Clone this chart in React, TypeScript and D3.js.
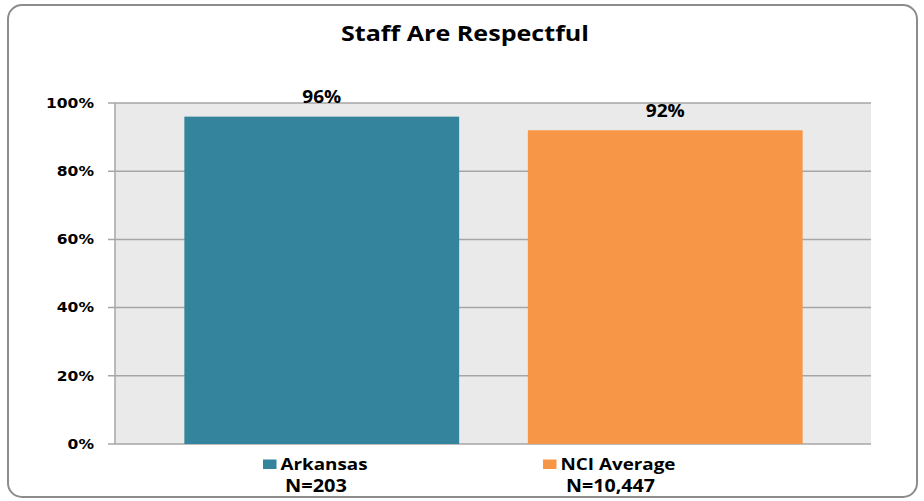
import React from "react";
import * as d3 from "d3";

const categories = ["Arkansas", "NCI Average"];
const values = [96, 92];
const valueLabels = ["96%", "92%"];
const nLabels = ["N=203", "N=10,447"];
const colors = ["#33849C", "#F79646"];
const yTicks = [0, 20, 40, 60, 80, 100];
const title = "Staff Are Respectful";

const W = 924;
const H = 501;
const plot = { left: 115, right: 871, top: 103, bottom: 444 };

export default function App() {
  const y = d3.scaleLinear().domain([0, 100]).range([plot.bottom, plot.top]);
  const x = d3
    .scaleBand<string>()
    .domain(categories)
    .range([150, 837])
    .paddingInner(0.2)
    .paddingOuter(0.1);
  const font = "'Open Sans', sans-serif";
  const legendX = [263, 543];
  const legendW = [87, 115];
  const nCenters = [316, 610.5];
  const nW = [62, 89];
  const tickLen = (s: string) => ((s.length - 1) * 0.696 + 1.002) * (48 / 3.09);
  return (
    <svg
      width={W}
      height={H}
      style={{ position: "absolute", left: 0, top: 0, background: "#fff" }}
    >
      <rect x={8} y={5} width={909} height={492} rx={14} ry={14} fill="#fff" stroke="#8C8C8C" strokeWidth={2} />
      <text
        x={465}
        y={41}
        textAnchor="middle"
        fontFamily={font}
        fontWeight="bold"
        fontSize={21.5}
        textLength={248}
        lengthAdjust="spacingAndGlyphs"
        fill="#000"
      >
        {title}
      </text>
      <rect x={plot.left} y={plot.top} width={plot.right - plot.left} height={plot.bottom - plot.top} fill="#EAEAEA" />
      {yTicks.map((t) => {
        const label = `${t}%`;
        return (
          <g key={t}>
            <line x1={108} x2={plot.right} y1={y(t)} y2={y(t)} stroke="#A6A6A6" strokeWidth={1.5} />
            <text
              x={94}
              y={y(t) + 4.7}
              textAnchor="end"
              fontFamily="'DejaVu Sans', Verdana, sans-serif"
              fontWeight="bold"
              fontSize={13.5}
              textLength={tickLen(label)}
              lengthAdjust="spacingAndGlyphs"
              fill="#000"
            >
              {label}
            </text>
          </g>
        );
      })}
      <line x1={plot.left} x2={plot.left} y1={plot.top} y2={plot.bottom} stroke="#A6A6A6" strokeWidth={1.5} />
      {categories.map((c, i) => (
        <g key={c}>
          <rect
            x={x(c)}
            y={y(values[i])}
            width={x.bandwidth()}
            height={plot.bottom - y(values[i])}
            fill={colors[i]}
          />
          <text
            x={(x(c) as number) + x.bandwidth() / 2}
            y={y(values[i]) - 13.3}
            textAnchor="middle"
            fontFamily={font}
            fontWeight="bold"
            fontSize={17}
            textLength={39}
            lengthAdjust="spacingAndGlyphs"
            fill="#000"
          >
            {valueLabels[i]}
          </text>
          <rect x={legendX[i]} y={459.5} width={13.5} height={9.5} fill={colors[i]} />
          <text
            x={legendX[i] + 17.5}
            y={469.5}
            fontFamily={font}
            fontWeight="bold"
            fontSize={16.5}
            textLength={legendW[i]}
            lengthAdjust="spacingAndGlyphs"
            fill="#000"
          >
            {c}
          </text>
          <text
            x={nCenters[i]}
            y={492.3}
            textAnchor="middle"
            fontFamily={font}
            fontWeight="bold"
            fontSize={17.5}
            textLength={nW[i]}
            lengthAdjust="spacingAndGlyphs"
            fill="#000"
          >
            {nLabels[i]}
          </text>
        </g>
      ))}
    </svg>
  );
}
